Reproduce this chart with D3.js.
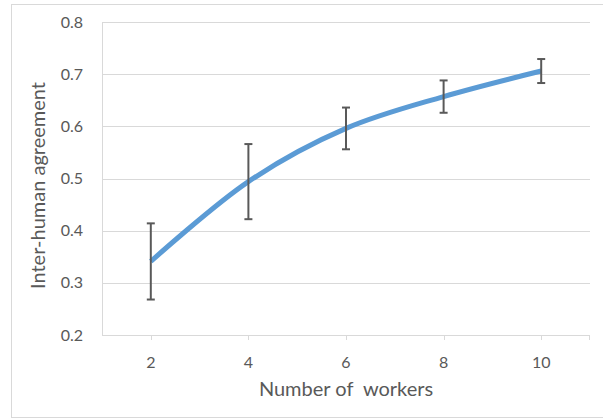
<!DOCTYPE html>
<html>
<head>
<meta charset="utf-8">
<script src="https://cdn.jsdelivr.net/npm/d3@7"></script>
<style>
  body { margin: 0; background: #fff; }
  text { font-family: Lato, "Open Sans", sans-serif; fill: #595959; }
</style>
</head>
<body>
<svg id="chart" width="603" height="420"></svg>
<script>
/* Data */
const workers = [2, 4, 6, 8, 10];
const agreement = [0.341, 0.494, 0.596, 0.657, 0.706];
const errorSize = [0.073, 0.072, 0.040, 0.031, 0.023];
const yTicks = [0.2, 0.3, 0.4, 0.5, 0.6, 0.7, 0.8];

const svg = d3.select('#chart');
const margin = { top: 22, right: 13, bottom: 85, left: 102 };
const width = 603 - margin.left - margin.right;
const height = 420 - margin.top - margin.bottom;

/* Outer chart border */
svg.append('rect')
    .attr('x', 11.5)
    .attr('y', 4.5)
    .attr('width', 620)
    .attr('height', 413)
    .attr('fill', 'none')
    .attr('stroke', '#d9d9d9');

let plotD3 = svg.append('g')
    .attr('transform', `translate(${margin.left},${margin.top})`);

let x = d3.scaleBand()
    .domain(workers)
    .range([0, width]);
let y = d3.scaleLinear()
    .domain([0.2, 0.8])
    .range([height, 0]);

let cx = d => x(d) + x.bandwidth() / 2;

/* Grid lines */
plotD3.append('g')
    .attr('class', 'y-grid-lines')
    .selectAll('line')
    .data(yTicks.slice(1))
    .join('line')
    .attr('x1', 0)
    .attr('x2', width)
    .attr('y1', d => Math.round(y(d)) + 0.5)
    .attr('y2', d => Math.round(y(d)) + 0.5)
    .attr('stroke', '#d9d9d9');

/* Y axis line (left) */
plotD3.append('line')
    .attr('x1', 0.5).attr('x2', 0.5)
    .attr('y1', 0).attr('y2', height)
    .attr('stroke', '#d9d9d9');

/* X axis */
let xAxisD3 = plotD3.append('g')
    .attr('class', 'x-axis')
    .attr('transform', `translate(0,${height})`);
xAxisD3.append('line')
    .attr('x1', 0).attr('x2', width)
    .attr('y1', 0.5).attr('y2', 0.5)
    .attr('stroke', '#d9d9d9');
xAxisD3.selectAll('.tick')
    .data(workers)
    .join('line')
    .attr('class', 'tick')
    .attr('x1', d => Math.round(cx(d)) + 0.5)
    .attr('x2', d => Math.round(cx(d)) + 0.5)
    .attr('y1', 0).attr('y2', 5)
    .attr('stroke', '#d9d9d9');
xAxisD3.append('line')
    .attr('x1', width - 0.5).attr('x2', width - 0.5)
    .attr('y1', 0).attr('y2', 5)
    .attr('stroke', '#d9d9d9');
xAxisD3.selectAll('.tick-label')
    .data(workers)
    .join('text')
    .attr('class', 'tick-label')
    .attr('x', d => cx(d))
    .attr('y', 27)
    .attr('dy', '0.35em')
    .attr('text-anchor', 'middle')
    .attr('font-size', 16)
    .text(d => d);

/* Y tick labels */
plotD3.append('g')
    .attr('class', 'y-tick-marks')
    .selectAll('text')
    .data(yTicks)
    .join('text')
    .attr('x', -19)
    .attr('y', d => y(d))
    .attr('dy', '0.35em')
    .attr('text-anchor', 'end')
    .attr('font-size', 16)
    .text(d => d3.format('.1f')(d));

/* Axis titles */
svg.append('text')
    .attr('transform', `translate(45,${margin.top + height / 2 + 7}) rotate(-90)`)
    .attr('text-anchor', 'middle')
    .attr('font-size', 20)
    .text('Inter-human agreement');
svg.append('text')
    .attr('x', margin.left + width / 2)
    .attr('y', 389)
    .attr('dy', '0.35em')
    .attr('text-anchor', 'middle')
    .attr('font-size', 20)
    .attr('xml:space', 'preserve')
    .text('Number of  workers');

/* Data line */
let points = workers.map((w, i) => [cx(w), y(agreement[i])]);
plotD3.append('path')
    .datum(points)
    .attr('fill', 'none')
    .attr('stroke', '#5b9bd5')
    .attr('stroke-width', 5)
    .attr('stroke-linecap', 'butt')
    .attr('d', d3.line().curve(d3.curveCatmullRom.alpha(0.5)));

/* Error bars */
let errD3 = plotD3.append('g')
    .attr('class', 'error-bars')
    .attr('stroke', '#595959')
    .attr('stroke-width', 2);
workers.forEach((w, i) => {
  let xc = cx(w);
  let hi = y(agreement[i] + errorSize[i]);
  let lo = y(agreement[i] - errorSize[i]);
  errD3.append('line').attr('x1', xc).attr('x2', xc).attr('y1', hi).attr('y2', lo);
  errD3.append('line').attr('x1', xc - 4).attr('x2', xc + 4).attr('y1', hi).attr('y2', hi);
  errD3.append('line').attr('x1', xc - 4).attr('x2', xc + 4).attr('y1', lo).attr('y2', lo);
});
</script>
</body>
</html>
